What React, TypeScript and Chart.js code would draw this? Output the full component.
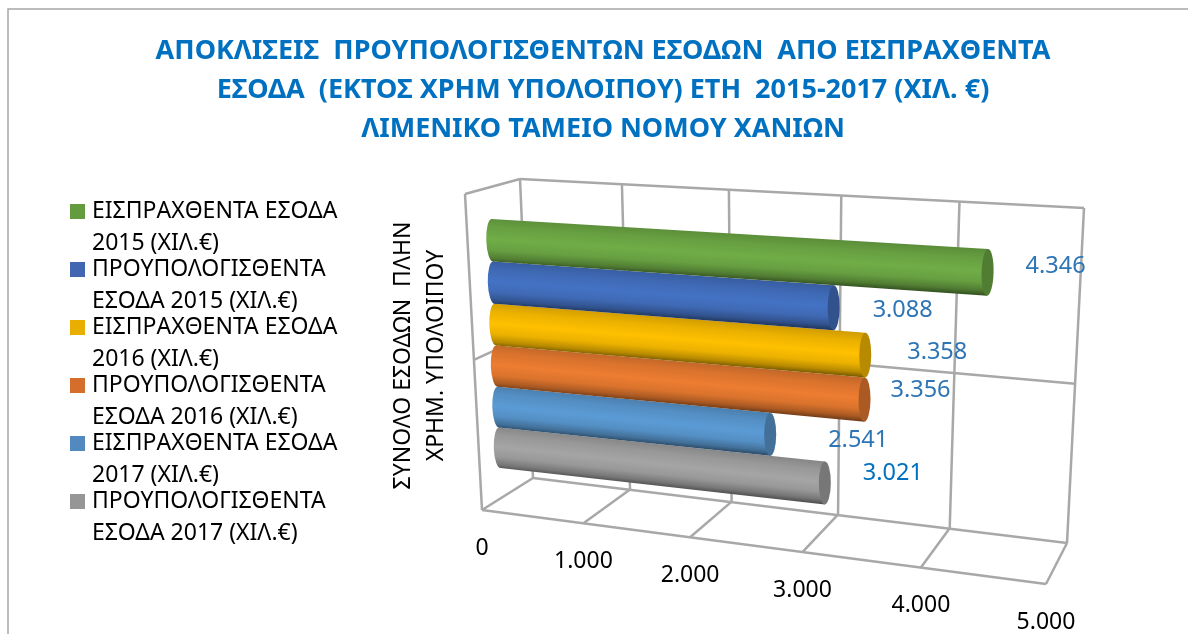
import React, { useEffect, useRef } from "react";
import { Chart, registerables } from "chart.js";

Chart.register(...registerables);

const FONT = "'Noto Sans', sans-serif";

const titleLines = [
  "ΑΠΟΚΛΙΣΕΙΣ  ΠΡΟΥΠΟΛΟΓΙΣΘΕΝΤΩΝ ΕΣΟΔΩΝ  ΑΠΟ ΕΙΣΠΡΑΧΘΕΝΤΑ",
  "ΕΣΟΔΑ  (ΕΚΤΟΣ ΧΡΗΜ ΥΠΟΛΟΙΠΟΥ) ΕΤΗ  2015-2017 (ΧΙΛ. €)",
  "ΛΙΜΕΝΙΚΟ ΤΑΜΕΙΟ ΝΟΜΟΥ ΧΑΝΙΩΝ",
];
const categories = ["ΣΥΝΟΛΟ ΕΣΟΔΩΝ ΠΛΗΝ ΧΡΗΜ. ΥΠΟΛΟΙΠΟΥ"];
const axisTitleLines = ["ΣΥΝΟΛΟ ΕΣΟΔΩΝ  ΠΛΗΝ", "ΧΡΗΜ. ΥΠΟΛΟΙΠΟΥ"];
const seriesNames = [
  ["ΕΙΣΠΡΑΧΘΕΝΤΑ ΕΣΟΔΑ", "2015 (ΧΙΛ.€)"],
  ["ΠΡΟΥΠΟΛΟΓΙΣΘΕΝΤΑ", "ΕΣΟΔΑ 2015 (ΧΙΛ.€)"],
  ["ΕΙΣΠΡΑΧΘΕΝΤΑ ΕΣΟΔΑ", "2016 (ΧΙΛ.€)"],
  ["ΠΡΟΥΠΟΛΟΓΙΣΘΕΝΤΑ", "ΕΣΟΔΑ 2016 (ΧΙΛ.€)"],
  ["ΕΙΣΠΡΑΧΘΕΝΤΑ ΕΣΟΔΑ", "2017 (ΧΙΛ.€)"],
  ["ΠΡΟΥΠΟΛΟΓΙΣΘΕΝΤΑ", "ΕΣΟΔΑ 2017 (ΧΙΛ.€)"],
];
const seriesValues = [4346, 3088, 3358, 3356, 2541, 3021];
const seriesColors = ["#659b3f", "#4067b0", "#e8ae00", "#d56d2b", "#5289bf", "#969696"];
const bodyColors = [
  [112, 173, 71],
  [68, 114, 196],
  [255, 192, 0],
  [237, 125, 49],
  [91, 155, 213],
  [165, 165, 165],
];
const labelColors = ["#2e75b6", "#2e75b6", "#2e75b6", "#2e75b6", "#2e75b6", "#0070c0"];
// pixel offset of each value label from the end of its bar
const labelOffsets = [
  [68, -6],
  [69, 3],
  [72, -3],
  [56, -9],
  [88, 6],
  [68, -10],
];

type P = [number, number];
function homography(p0: P, p1: P, p2: P, p3: P) {
  const [x0, y0] = p0, [x1, y1] = p1, [x2, y2] = p2, [x3, y3] = p3;
  const dx1 = x1 - x2, dx2 = x3 - x2, dx3 = x0 - x1 + x2 - x3;
  const dy1 = y1 - y2, dy2 = y3 - y2, dy3 = y0 - y1 + y2 - y3;
  const den = dx1 * dy2 - dx2 * dy1;
  const g = (dx3 * dy2 - dx2 * dy3) / den;
  const h = (dx1 * dy3 - dx3 * dy1) / den;
  const a = x1 - x0 + g * x1, b = x3 - x0 + h * x3, c = x0;
  const d = y1 - y0 + g * y1, e = y3 - y0 + h * y3, f = y0;
  return (u: number, v: number): P => {
    const w = g * u + h * v + 1;
    return [(a * u + b * v + c) / w, (d * u + e * v + f) / w];
  };
}

// The flat plot rectangle is projected onto the planes of the 3-D box.
const barPlane = homography([491.5, 219], [1072, 254], [1062, 531], [500.5, 468]);
const backWall = homography([520, 179], [1084, 208], [1067, 543], [533, 478]);
const floorPlane = homography([533, 478], [1067, 543], [1046, 584], [482, 510]);
const leftWall = homography([465, 194], [520, 179], [533, 478], [482, 510]);
const WALL_LINE_V = 0.51;
const TICK_LABEL_DROP = 38;
const CAP_RX = 6;

const fmt = (n: number) => String(Math.round(n)).replace(/\B(?=(\d{3})+$)/g, ".");
const shade = (c: number[], k: number) =>
  `rgb(${c.map((x) => Math.round(Math.min(255, x * k))).join(",")})`;

function line(ctx: CanvasRenderingContext2D, a: P, b: P) {
  ctx.beginPath();
  ctx.moveTo(a[0], a[1]);
  ctx.lineTo(b[0], b[1]);
  ctx.stroke();
}

const frame3d = {
  id: "frame3d",
  beforeDraw(chart: any) {
    const { ctx, width, height } = chart;
    ctx.save();
    ctx.fillStyle = "#ffffff";
    ctx.fillRect(0, 0, width, height);
    ctx.strokeStyle = "#a6a6a6";
    ctx.lineWidth = 1.5;
    ctx.beginPath();
    ctx.moveTo(8, height);
    ctx.lineTo(8, 9);
    ctx.lineTo(width, 9);
    ctx.stroke();
    ctx.restore();
  },
  beforeDatasetsDraw(chart: any) {
    const { ctx, chartArea } = chart;
    const xs = chart.scales.x;
    const toU = (px: number) => (px - chartArea.left) / (chartArea.right - chartArea.left);
    const toV = (py: number) => (py - chartArea.top) / (chartArea.bottom - chartArea.top);

    // walls and floor
    ctx.save();
    ctx.strokeStyle = "#a8a8a8";
    ctx.lineWidth = 2.5;
    ctx.lineJoin = "round";
    for (const t of xs.ticks) {
      const u = toU(xs.getPixelForValue(t.value));
      line(ctx, backWall(u, 0), backWall(u, 1));
      line(ctx, floorPlane(u, 0), floorPlane(u, 1));
    }
    line(ctx, backWall(0, 0), backWall(1, 0));
    line(ctx, backWall(0, 1), backWall(1, 1));
    line(ctx, backWall(0, WALL_LINE_V), backWall(1, WALL_LINE_V));
    line(ctx, floorPlane(0, 1), floorPlane(1, 1));
    line(ctx, leftWall(0, 0), leftWall(1, 0));
    line(ctx, leftWall(0, 0), leftWall(0, 1));
    line(ctx, leftWall(0, WALL_LINE_V), leftWall(1, WALL_LINE_V));
    ctx.restore();

    // x tick labels along the front edge of the floor
    ctx.save();
    ctx.font = `23px ${FONT}`;
    ctx.fillStyle = "#000000";
    ctx.textAlign = "center";
    ctx.textBaseline = "middle";
    for (const t of xs.ticks) {
      const p = floorPlane(toU(xs.getPixelForValue(t.value)), 1);
      ctx.fillText(fmt(t.value), p[0], p[1] + TICK_LABEL_DROP);
    }
    ctx.restore();

    // cylinders, from the last one up, so upper ones overlap lower ones
    for (let i = chart.data.datasets.length - 1; i >= 0; i--) {
      const el = chart.getDatasetMeta(i).data[0];
      const u0 = toU(el.base);
      const u1 = toU(el.x);
      const vC = toV(el.y);
      const hv = el.height / (chartArea.bottom - chartArea.top) / 2;
      const c = bodyColors[i];
      const tl = barPlane(u0, vC - hv), bl = barPlane(u0, vC + hv);
      const tr = barPlane(u1, vC - hv), br = barPlane(u1, vC + hv);
      const mid = (a: P, b: P): P => [(a[0] + b[0]) / 2, (a[1] + b[1]) / 2];
      const lc = mid(tl, bl), rc = mid(tr, br);
      const lRad = Math.hypot(bl[0] - tl[0], bl[1] - tl[1]) / 2;
      const rRad = Math.hypot(br[0] - tr[0], br[1] - tr[1]) / 2;
      const rotL = Math.atan2(bl[1] - tl[1], bl[0] - tl[0]);
      const rotR = Math.atan2(br[1] - tr[1], br[0] - tr[0]);
      const m = mid(lc, rc);
      const axis = Math.atan2(rc[1] - lc[1], rc[0] - lc[0]);
      const half = (lRad + rRad) / 2;
      const nx = -Math.sin(axis), ny = Math.cos(axis);
      const g = ctx.createLinearGradient(m[0] - nx * half, m[1] - ny * half, m[0] + nx * half, m[1] + ny * half);
      g.addColorStop(0, shade(c, 0.82));
      g.addColorStop(0.2, shade(c, 0.92));
      g.addColorStop(0.48, shade(c, 1.0));
      g.addColorStop(0.72, shade(c, 0.92));
      g.addColorStop(0.9, shade(c, 0.72));
      g.addColorStop(1, shade(c, 0.5));

      ctx.save();
      ctx.fillStyle = g;
      ctx.beginPath();
      ctx.ellipse(lc[0], lc[1], lRad, CAP_RX, rotL, 0, Math.PI * 2);
      ctx.fill();
      ctx.beginPath();
      ctx.moveTo(tl[0], tl[1]);
      ctx.lineTo(tr[0], tr[1]);
      ctx.lineTo(br[0], br[1]);
      ctx.lineTo(bl[0], bl[1]);
      ctx.closePath();
      ctx.fill();
      ctx.beginPath();
      ctx.ellipse(rc[0], rc[1], rRad, CAP_RX, rotR, 0, Math.PI * 2);
      ctx.fillStyle = shade(c, 0.72);
      ctx.fill();
      ctx.restore();
    }

    // value labels
    ctx.save();
    ctx.font = `23.5px ${FONT}`;
    ctx.textAlign = "center";
    ctx.textBaseline = "middle";
    chart.data.datasets.forEach((ds: any, i: number) => {
      const el = chart.getDatasetMeta(i).data[0];
      const p = barPlane(toU(el.x), toV(el.y));
      ctx.fillStyle = labelColors[i];
      ctx.fillText(fmt(ds.data[0]), p[0] + labelOffsets[i][0], p[1] + labelOffsets[i][1]);
    });
    ctx.restore();

    // legend
    ctx.save();
    ctx.font = `23px ${FONT}`;
    ctx.textAlign = "left";
    ctx.textBaseline = "middle";
    seriesNames.forEach((lines, i) => {
      const y = 204 + i * 58;
      ctx.fillStyle = chart.data.datasets[i].backgroundColor;
      ctx.fillRect(70, y, 15, 15);
      ctx.fillStyle = "#000000";
      ctx.fillText(lines[0], 92, y + 7);
      ctx.fillText(lines[1], 92, y + 39);
    });
    ctx.restore();
    return false;
  },
};

export default function App() {
  const ref = useRef<HTMLCanvasElement>(null);
  useEffect(() => {
    const chart = new Chart(ref.current as HTMLCanvasElement, {
      type: "bar",
      data: {
        labels: categories,
        datasets: seriesValues.map((v, i) => ({
          label: seriesNames[i].join(" "),
          data: [v],
          backgroundColor: seriesColors[i],
        })),
      },
      plugins: [frame3d],
      options: {
        indexAxis: "y",
        responsive: false,
        animation: false,
        datasets: { bar: { barPercentage: 1, categoryPercentage: 1 } },
        layout: { padding: { left: 18, right: 0, top: 0, bottom: 132 } },
        plugins: {
          legend: { display: false },
          tooltip: { enabled: false },
          title: {
            display: true,
            text: titleLines,
            color: "#0070c0",
            font: { family: FONT, size: 27, weight: "bold", lineHeight: 39 / 27 },
            padding: { top: 32, bottom: 60 },
          },
        },
        scales: {
          x: { display: false, min: 0, max: 5000, ticks: { stepSize: 1000 } },
          y: {
            display: true,
            grid: { display: false },
            border: { display: false },
            ticks: { display: false },
            title: {
              display: true,
              text: axisTitleLines,
              color: "#000000",
              font: { family: FONT, size: 23, lineHeight: 33 / 23 },
              padding: { top: 369, bottom: 0 },
            },
            afterFit(scale: any) {
              scale.width = 472;
            },
          },
        },
      } as any,
    });
    return () => chart.destroy();
  }, []);
  return (
    <div style={{ position: "fixed", left: 0, top: 0, width: 1188, height: 634 }}>
      <canvas ref={ref} width={1188} height={634} style={{ display: "block" }} />
    </div>
  );
}
